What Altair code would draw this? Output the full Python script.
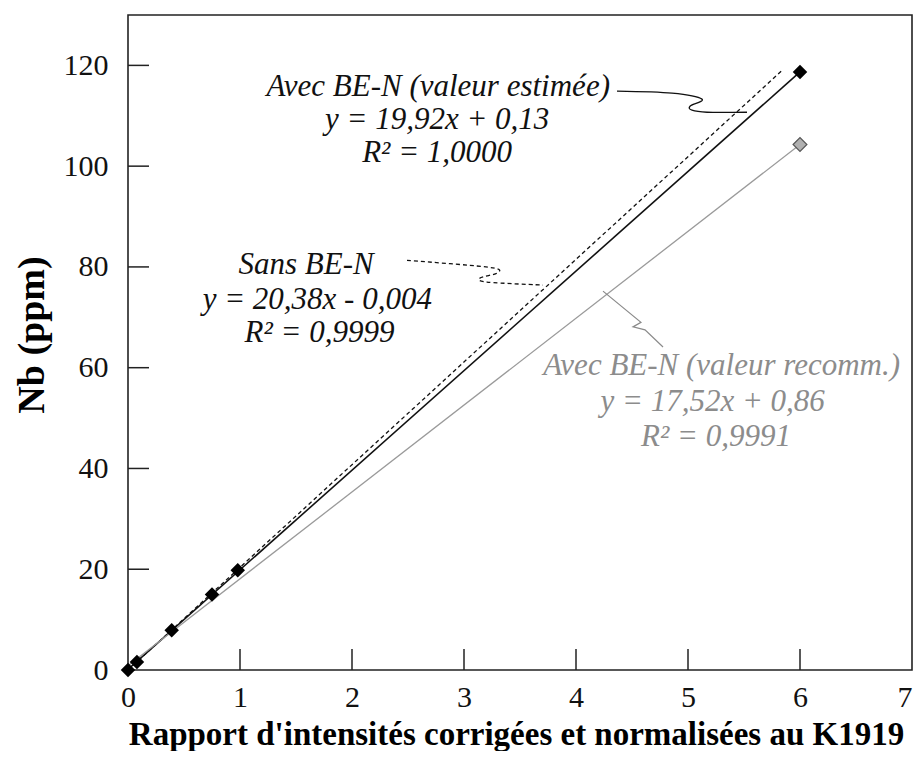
import altair as alt
import pandas as pd

# ---- data ----
pts_x = [0.0, 0.08, 0.39, 0.75, 0.98, 6.0]
pts_y = [0.0, 1.6, 7.9, 15.0, 19.8, 118.7]
grey_pt_x = [6.0]
grey_pt_y = [104.3]

# trend lines (end points)
solid_x = [0.0, 6.0]
solid_y = [0.13, 118.7]
dashed_x = [0.0, 5.85]
dashed_y = [0.0, 119.2]
grey_x = [0.0, 6.0]
grey_y = [0.86, 104.3]

# leader (callout) curves, data units
lead1_x = [4.366, 4.857, 5.125, 5.018, 5.036, 5.17, 5.527]
lead1_y = [114.9, 114.5, 113.3, 111.9, 111.1, 110.7, 110.7]
lead2_x = [2.491, 3.232, 3.295, 3.143, 3.205, 3.705]
lead2_y = [81.3, 79.9, 78.8, 77.8, 77.0, 76.4]
lead3_x = [4.241, 4.580, 4.509, 4.616, 4.777]
lead3_y = [75.2, 69.0, 68.1, 67.5, 64.1]

x_ticks = [1, 2, 3, 4, 5, 6]
y_ticks = [20, 40, 60, 80, 100, 120]

ann_text = [
    "Avec BE-N (valeur estimée)", "y = 19,92x + 0,13", "R² = 1,0000",
    "Sans BE-N", "y = 20,38x - 0,004", "R² = 0,9999",
    "Avec BE-N (valeur recomm.)", "y = 17,52x + 0,86", "R² = 0,9991",
]
ann_x = [2.77, 2.76, 2.76, 1.59, 1.69, 1.71, 5.30, 5.22, 5.25]
ann_y = [115.7, 109.1, 102.6, 80.4, 73.4, 66.9, 60.3, 53.2, 46.2]
ann_grp = ["k", "k", "k", "k", "k", "k", "g", "g", "g"]

SERIF = "Liberation Serif"
W, H = 784, 655

xs = alt.Scale(domain=[0, 7], nice=False, zero=True)
ys = alt.Scale(domain=[0, 130], nice=False, zero=True)


def line_df(xv, yv):
    return pd.DataFrame({"x": xv, "y": yv, "i": list(range(len(xv)))})


X = alt.X("x:Q", scale=xs, title="Rapport d'intensités corrigées et normalisées au K1919",
          axis=alt.Axis(values=list(range(8)), format="d", ticks=False, domain=False, grid=False,
                        labelFont=SERIF, labelFontSize=30, labelColor="#111",
                        labelPadding=12, labelFlush=False,
                        labelAlign=alt.expr("datum.value == 7 ? 'right' : 'center'"),
                        titleFont=SERIF, titleFontSize=33, titleFontWeight="bold",
                        titleColor="#000", titleY=74, titleX=W / 2 - 4,
                        titleBaseline="alphabetic"))
Y = alt.Y("y:Q", scale=ys, title="Nb (ppm)",
          axis=alt.Axis(values=[0, 20, 40, 60, 80, 100, 120], format="d", ticks=False,
                        domain=False, grid=False, labelFont=SERIF, labelFontSize=30,
                        labelColor="#111", labelPadding=20, labelFlush=False,
                        titleFont=SERIF, titleFontSize=38, titleFontWeight="bold",
                        titleColor="#000", titleX=-96, titleY=H / 2 - 8,
                        titleAlign="center", titleBaseline="middle", titleAngle=-90))

base_x = alt.X("x:Q", scale=xs)
base_y = alt.Y("y:Q", scale=ys)

solid = alt.Chart(line_df(solid_x, solid_y)).mark_line(color="#111", strokeWidth=1.6).encode(
    x=X, y=Y, order="i:Q")
dashed = alt.Chart(line_df(dashed_x, dashed_y)).mark_line(
    color="#111", strokeWidth=1.3, strokeDash=[4, 3]).encode(x=base_x, y=base_y, order="i:Q")
grey = alt.Chart(line_df(grey_x, grey_y)).mark_line(color="#9a9a9a", strokeWidth=1.3).encode(
    x=base_x, y=base_y, order="i:Q")

lead1 = alt.Chart(line_df(lead1_x, lead1_y)).mark_line(
    color="#111", strokeWidth=1.3, interpolate="cardinal").encode(x=base_x, y=base_y, order="i:Q")
lead2 = alt.Chart(line_df(lead2_x, lead2_y)).mark_line(
    color="#111", strokeWidth=1.3, strokeDash=[4, 3], interpolate="cardinal").encode(
    x=base_x, y=base_y, order="i:Q")
lead3 = alt.Chart(line_df(lead3_x, lead3_y)).mark_line(
    color="#8a8a8a", strokeWidth=1.2).encode(x=base_x, y=base_y, order="i:Q")

pts = alt.Chart(pd.DataFrame({"x": pts_x, "y": pts_y})).mark_point(
    shape="diamond", filled=True, size=210, color="#000", opacity=1).encode(x=base_x, y=base_y)
gpt = alt.Chart(pd.DataFrame({"x": grey_pt_x, "y": grey_pt_y})).mark_point(
    shape="diamond", filled=True, size=190, fill="#b0b0b0", stroke="#555", strokeWidth=1.2,
    opacity=1).encode(x=base_x, y=base_y)

ytick = alt.Chart(pd.DataFrame({"y": y_ticks})).mark_rule(color="#222", strokeWidth=1.5).encode(
    y=base_y, x=alt.value(0), x2=alt.value(21))
xtick = alt.Chart(pd.DataFrame({"x": x_ticks})).mark_rule(color="#222", strokeWidth=1.5).encode(
    x=base_x, y=alt.value(H), y2=alt.value(H - 21))

ann = pd.DataFrame({"t": ann_text, "x": ann_x, "y": ann_y, "g": ann_grp})
ann_k = alt.Chart(ann[ann.g == "k"]).mark_text(
    font=SERIF, fontStyle="italic", fontSize=31, color="#111", align="center",
    baseline="middle").encode(x=base_x, y=base_y, text="t:N")
ann_g = alt.Chart(ann[ann.g == "g"]).mark_text(
    font=SERIF, fontStyle="italic", fontSize=31, color="#8c8c8c", align="center",
    baseline="middle").encode(x=base_x, y=base_y, text="t:N")

chart = alt.layer(solid, dashed, grey, lead1, lead2, lead3, ytick, xtick, pts, gpt,
                  ann_k, ann_g).properties(
    width=W, height=H,
    autosize=alt.AutoSizeParams(type="none"),
    padding={"left": 120, "top": 7, "right": 2, "bottom": 81},
    background="white",
).configure_view(stroke="#222", strokeWidth=1.6)

chart.save("out.html", embed_options={"renderer": "svg", "actions": False})
